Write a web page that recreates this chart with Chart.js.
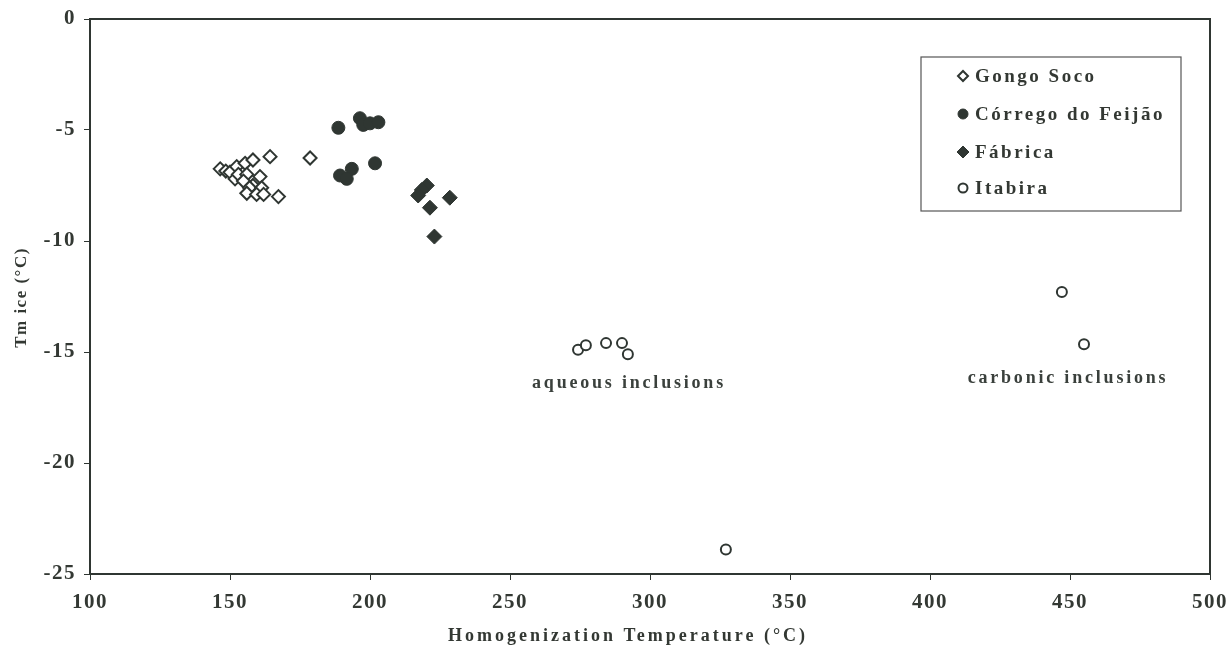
<!DOCTYPE html>
<html>
<head>
<meta charset="utf-8">
<script src="https://cdn.jsdelivr.net/npm/chart.js@4"></script>
<style>
html,body{margin:0;padding:0;background:#fff;}
#wrap{width:1226px;height:650px;}
</style>
</head>
<body>
<div id="wrap"><canvas id="c" width="1226" height="650"></canvas></div>
<script>
const seriesNames = ['Gongo Soco', 'Córrego do Feijão', 'Fábrica', 'Itabira'];
const gongoX = [146.5,148.5,150,152.4,155.4,158.2,164.3,178.6,151.8,153,156,160.7,154.8,158.2,157,161.3,156,159.5,162,167.3];
const gongoY = [-6.75,-6.85,-6.9,-6.65,-6.5,-6.35,-6.2,-6.26,-7.2,-7.0,-7.0,-7.1,-7.3,-7.5,-7.6,-7.6,-7.85,-7.9,-7.9,-8.0];
const corregoX = [188.7,196.4,197.6,200,203,201.8,193.5,189.3,191.7];
const corregoY = [-4.9,-4.47,-4.77,-4.7,-4.65,-6.5,-6.75,-7.05,-7.2];
const fabricaX = [220.3,218.5,217.2,228.5,221.4,223];
const fabricaY = [-7.5,-7.7,-7.95,-8.05,-8.5,-9.8];
const itabiraX = [274.3,277.1,284.3,290,292.1,327.1,447.1,455];
const itabiraY = [-14.9,-14.7,-14.6,-14.6,-15.1,-23.9,-12.3,-14.65];
const xTicks = [100,150,200,250,300,350,400,450,500];
const yTicks = [0,-5,-10,-15,-20,-25];
const xTitle = 'Homogenization Temperature (°C)';
const yTitle = 'Tm ice (°C)';
const notes = [
  {text:'aqueous inclusions', x:292.5, y:-16.4},
  {text:'carbonic inclusions', x:449.3, y:-16.2}
];

const ink = '#2f3632';
const txt = '#333833';
const pts = (xs, ys) => xs.map((x,i)=>({x, y: ys[i]}));

const styles = [
  {pointStyle:'rectRot', radius:6.5, fill:'#ffffff', border:2},
  {pointStyle:'circle', radius:6.5, fill:ink, border:1},
  {pointStyle:'rectRot', radius:7.5, fill:ink, border:1},
  {pointStyle:'circle', radius:5, fill:'#ffffff', border:2}
];
const dataXY = [[gongoX,gongoY],[corregoX,corregoY],[fabricaX,fabricaY],[itabiraX,itabiraY]];

const datasets = seriesNames.map((n,i)=>({
  label:n,
  data: pts(dataXY[i][0], dataXY[i][1]),
  pointStyle: styles[i].pointStyle,
  pointRadius: styles[i].radius,
  pointHoverRadius: styles[i].radius,
  backgroundColor: styles[i].fill,
  borderColor: ink,
  borderWidth: styles[i].border,
  showLine:false
}));

const spacing = {
  id:'spacing',
  beforeUpdate(chart){ chart.ctx.letterSpacing = '1.5px'; },
  beforeDraw(chart){ chart.ctx.letterSpacing = '1.5px'; }
};

const extras = {
  id:'extras',
  afterDatasetsDraw(chart){
    const ctx = chart.ctx, a = chart.chartArea;
    const xs = chart.scales.x, ys = chart.scales.y;
    ctx.save();
    // frame
    ctx.strokeStyle = ink; ctx.lineWidth = 2;
    ctx.strokeRect(a.left, a.top, a.right - a.left, a.bottom - a.top);
    // axis titles
    ctx.fillStyle = txt;
    ctx.font = 'bold 18px "Liberation Serif"';
    ctx.letterSpacing = '3px';
    ctx.textAlign = 'center'; ctx.textBaseline = 'middle';
    ctx.fillText(xTitle, (a.left + a.right) / 2 - 22, a.bottom + 62);
    ctx.save();
    ctx.translate(22, (a.top + a.bottom) / 2 + 1);
    ctx.rotate(-Math.PI / 2);
    ctx.font = 'bold 17px "Liberation Serif"';
    ctx.letterSpacing = '1.5px';
    ctx.fillText(yTitle, 0, 0);
    ctx.restore();
    // annotations
    ctx.fillStyle = '#3a403c';
    ctx.font = 'bold 18px "Liberation Serif"';
    ctx.letterSpacing = '2.8px';
    ctx.textAlign = 'center'; ctx.textBaseline = 'middle';
    notes.forEach(n => ctx.fillText(n.text, xs.getPixelForValue(n.x), ys.getPixelForValue(n.y)));
    // legend
    const bx = a.right - 289, by = a.top + 38, bw = 260, bh = 154;
    ctx.fillStyle = '#fff';
    ctx.fillRect(bx, by, bw, bh);
    ctx.strokeStyle = '#555'; ctx.lineWidth = 1.2;
    ctx.strokeRect(bx, by, bw, bh);
    const rowY = [19, 57, 95, 131];
    const lstyles = [
      {pointStyle:'rectRot', radius:5, fill:'#fff', border:2},
      {pointStyle:'circle', radius:5, fill:ink, border:1},
      {pointStyle:'rectRot', radius:6, fill:ink, border:1},
      {pointStyle:'circle', radius:4.5, fill:'#fff', border:2}
    ];
    ctx.font = 'bold 19px "Liberation Serif"';
    ctx.letterSpacing = '2.5px';
    ctx.textAlign = 'left'; ctx.textBaseline = 'middle';
    seriesNames.forEach((n,i)=>{
      const s = lstyles[i];
      const y = by + rowY[i];
      ctx.fillStyle = s.fill; ctx.strokeStyle = ink; ctx.lineWidth = s.border;
      Chart.helpers.drawPoint(ctx, {pointStyle:s.pointStyle, radius:s.radius, rotation:0, borderWidth:s.border}, bx + 42, y);
      ctx.fillStyle = txt;
      ctx.fillText(n, bx + 54, y + 1);
    });
    ctx.restore();
  }
};

new Chart(document.getElementById('c'), {
  type:'scatter',
  data:{datasets},
  options:{
    responsive:false,
    animation:false,
    layout:{padding:{left:0, top:19, right:16, bottom:0}},
    plugins:{legend:{display:false}, tooltip:{enabled:false}},
    scales:{
      x:{
        type:'linear', min:100, max:500,
        afterBuildTicks(s){ s.ticks = xTicks.map(v=>({value:v})); },
        afterFit(s){ s.height = 76; s.paddingLeft = 0; s.paddingRight = 0; },
        grid:{drawOnChartArea:false, drawTicks:true, tickLength:6, color:ink, lineWidth:1},
        border:{display:true, color:ink, width:2},
        ticks:{color:txt, padding:10, maxRotation:0, font:{family:'"Liberation Serif"', weight:'bold', size:21}}
      },
      y:{
        type:'linear', min:-25, max:0,
        afterBuildTicks(s){ s.ticks = yTicks.map(v=>({value:v})); },
        afterFit(s){ s.width = 90; s.paddingTop = 0; s.paddingBottom = 0; },
        grid:{drawOnChartArea:false, drawTicks:true, tickLength:6, color:ink, lineWidth:1},
        border:{display:true, color:ink, width:2},
        ticks:{color:txt, padding:8, font:{family:'"Liberation Serif"', weight:'bold', size:21}}
      }
    }
  },
  plugins:[spacing, extras]
});
</script>
</body>
</html>
